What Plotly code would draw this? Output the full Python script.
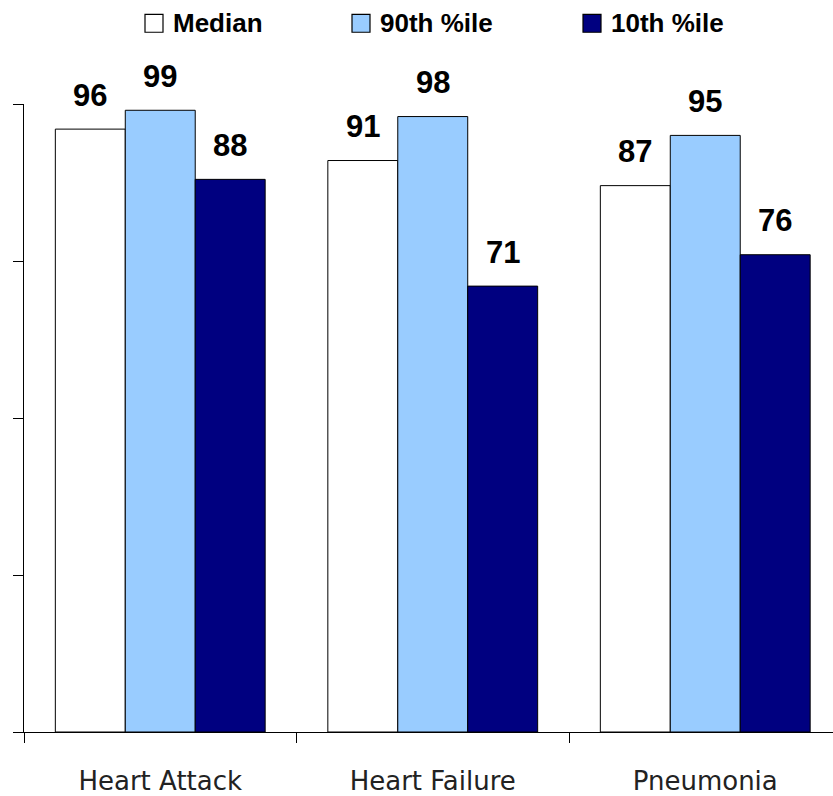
import plotly.graph_objects as go

# Data
categories = ["Heart Attack", "Heart Failure", "Pneumonia"]
series_names = ["Median", "90th %ile", "10th %ile"]
median_vals = [96, 91, 87]
p90_vals = [99, 98, 95]
p10_vals = [88, 71, 76]
series_values = [median_vals, p90_vals, p10_vals]
series_colors = ["#FFFFFF", "#99CCFF", "#000080"]

BAR_GAP = 0.23
label_font = dict(family="Liberation Sans, Arial, sans-serif", size=31, color="black")

fig = go.Figure()
for name, vals, color in zip(series_names, series_values, series_colors):
    fig.add_trace(go.Bar(
        x=categories, y=vals, name=name,
        marker=dict(color=color, line=dict(color="black", width=1)),
        showlegend=False,
    ))

# Value labels above each bar, positioned from the bar values
n = len(series_names)
bar_w = (1 - BAR_GAP) / n
annotations = []
for j, vals in enumerate(series_values):
    off = (j - (n - 1) / 2) * bar_w
    for i, v in enumerate(vals):
        annotations.append(dict(
            x=i + off, y=v, xref="x", yref="y", text=f"<b>{v}</b>",
            showarrow=False, yanchor="middle", yshift=34, font=label_font,
        ))

# Legend row along the top: outlined squares with bold names
legend_x0 = [145, 352, 583]  # left edge of each swatch, px
plot_left, plot_w, plot_bottom, plot_h = 24, 809, 734, 630
shapes = []
for name, color, px in zip(series_names, series_colors, legend_x0):
    x0 = (px - plot_left) / plot_w
    x1 = (px + 18 - plot_left) / plot_w
    y0 = (plot_bottom - 32) / plot_h
    y1 = (plot_bottom - 14) / plot_h
    shapes.append(dict(type="rect", xref="paper", yref="paper",
                       x0=x0, x1=x1, y0=y0, y1=y1,
                       fillcolor=color, line=dict(color="black", width=1.2)))
    annotations.append(dict(
        x=(px + 26 - plot_left) / plot_w, y=(plot_bottom - 23) / plot_h,
        xref="paper", yref="paper", xanchor="left", yanchor="middle",
        text=f"<b>{name}</b>", showarrow=False,
        font=dict(family="Liberation Sans, Arial, sans-serif", size=26, color="black"),
    ))

fig.update_layout(
    barmode="group", bargap=BAR_GAP, bargroupgap=0,
    plot_bgcolor="white", paper_bgcolor="white",
    margin=dict(l=plot_left, r=0, t=104, b=62),
    annotations=annotations, shapes=shapes,
    showlegend=False,
)
fig.update_xaxes(
    range=[-0.5, -0.5 + (833 - plot_left) / 272.5],
    showline=True, linecolor="black", linewidth=1,
    ticks="outside", tickson="boundaries", ticklen=10, tickcolor="black",
    ticklabelstandoff=26,
    tickfont=dict(family="DejaVu Sans, Verdana, sans-serif", size=26, color="#222222"),
    showgrid=False, zeroline=False,
)
fig.update_yaxes(
    range=[0, 100], tickvals=[0, 25, 50, 75, 100],
    showticklabels=False, showline=True, linecolor="black", linewidth=1,
    ticks="outside", ticklen=10, tickcolor="black",
    showgrid=False, zeroline=False,
)

fig.write_html("out.html")
